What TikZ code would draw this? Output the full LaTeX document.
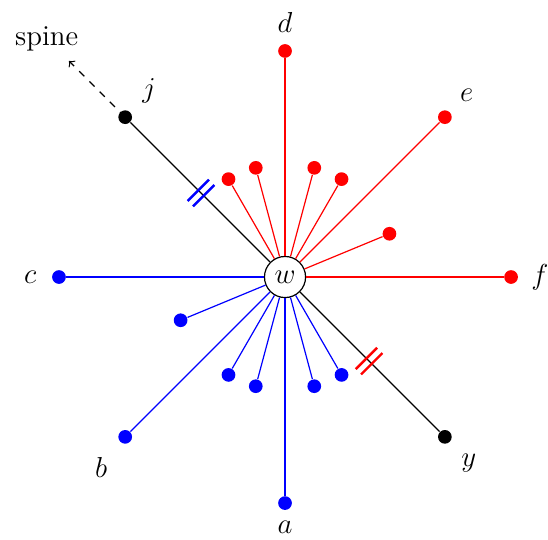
\documentclass[tikz,border=0pt]{standalone}
\usetikzlibrary{calc}
\begin{document}
\begin{tikzpicture}[font=\large,line width=0.5pt,
    dot/.style={circle,fill,inner sep=0pt,minimum size=0.2cm},
    hub/.style={circle,draw,fill=white,inner sep=0pt,minimum size=0.6cm},
    tick/.style={line width=1pt}]
            \useasboundingbox (-4.161,-3.825) rectangle (3.839,4.044);
            \node[hub] (w) at (0,0) {$w$};
            % outer vertices
            \node[dot,red] (d) at (90:3.3) {};
            \node[dot,red] (e) at (45:3.3) {};
            \node[dot,red] (f) at (0:3.3) {};
            \node[dot,blue] (c) at (180:3.3) {};
            \node[dot,blue] (b) at (225:3.3) {};
            \node[dot,blue] (a) at (270:3.3) {};
            \node[dot] (j) at (135:3.3) {};
            \node[dot] (y) at (315:3.3) {};
            % inner vertices
            \node[dot,red] (r1) at (120:1.65) {};
            \node[dot,red] (r2) at (105:1.65) {};
            \node[dot,red] (r3) at (75:1.65) {};
            \node[dot,red] (r4) at (60:1.65) {};
            \node[dot,red] (r5) at (22.5:1.65) {};
            \node[dot,blue] (b1) at (202.5:1.65) {};
            \node[dot,blue] (b2) at (240:1.65) {};
            \node[dot,blue] (b3) at (255:1.65) {};
            \node[dot,blue] (b4) at (285:1.65) {};
            \node[dot,blue] (b5) at (300:1.65) {};
            % edges
            \draw[red] (w) -- (d);
            \draw[red] (w) -- (e);
            \draw[red] (w) -- (f);
            \draw[red] (w) -- (r1);
            \draw[red] (w) -- (r2);
            \draw[red] (w) -- (r3);
            \draw[red] (w) -- (r4);
            \draw[red] (w) -- (r5);
            \draw[blue] (w) -- (c);
            \draw[blue] (w) -- (b);
            \draw[blue] (w) -- (a);
            \draw[blue] (w) -- (b1);
            \draw[blue] (w) -- (b2);
            \draw[blue] (w) -- (b3);
            \draw[blue] (w) -- (b4);
            \draw[blue] (w) -- (b5);
            \draw (w) -- (j);
            \draw (w) -- (y);
            % double ticks
            \draw[tick,blue] ($(w.center)+(135:1.68)+(45:0.22)$) -- ++(225:0.44);
            \draw[tick,blue] ($(w.center)+(135:1.79)+(45:0.22)$) -- ++(225:0.44);
            \draw[tick,red] ($(w.center)+(315:1.68)+(45:0.22)$) -- ++(225:0.44);
            \draw[tick,red] ($(w.center)+(315:1.79)+(45:0.22)$) -- ++(225:0.44);
            % spine
            \coordinate (s) at (135:4.46);
            \draw[dashed,->] (j.center) -- (s);
            \node (spine) at (135:4.92) {spine};
            % labels
            \node (ld) at (90:3.72) {$d$};
            \node (le) at (45:3.75) {$e$};
            \node (lf) at (0:3.72) {$f$};
            \node (lc) at (180:3.72) {$c$};
            \node (la) at (270:3.66) {$a$};
            \node (lb) at ($(b)+(-0.35,-0.44)$) {$b$};
            \node (lj) at ($(j)+(0.35,0.38)$) {$j$};
            \node (ly) at ($(y)+(0.35,-0.38)$) {$y$};
        \end{tikzpicture}
\end{document}
